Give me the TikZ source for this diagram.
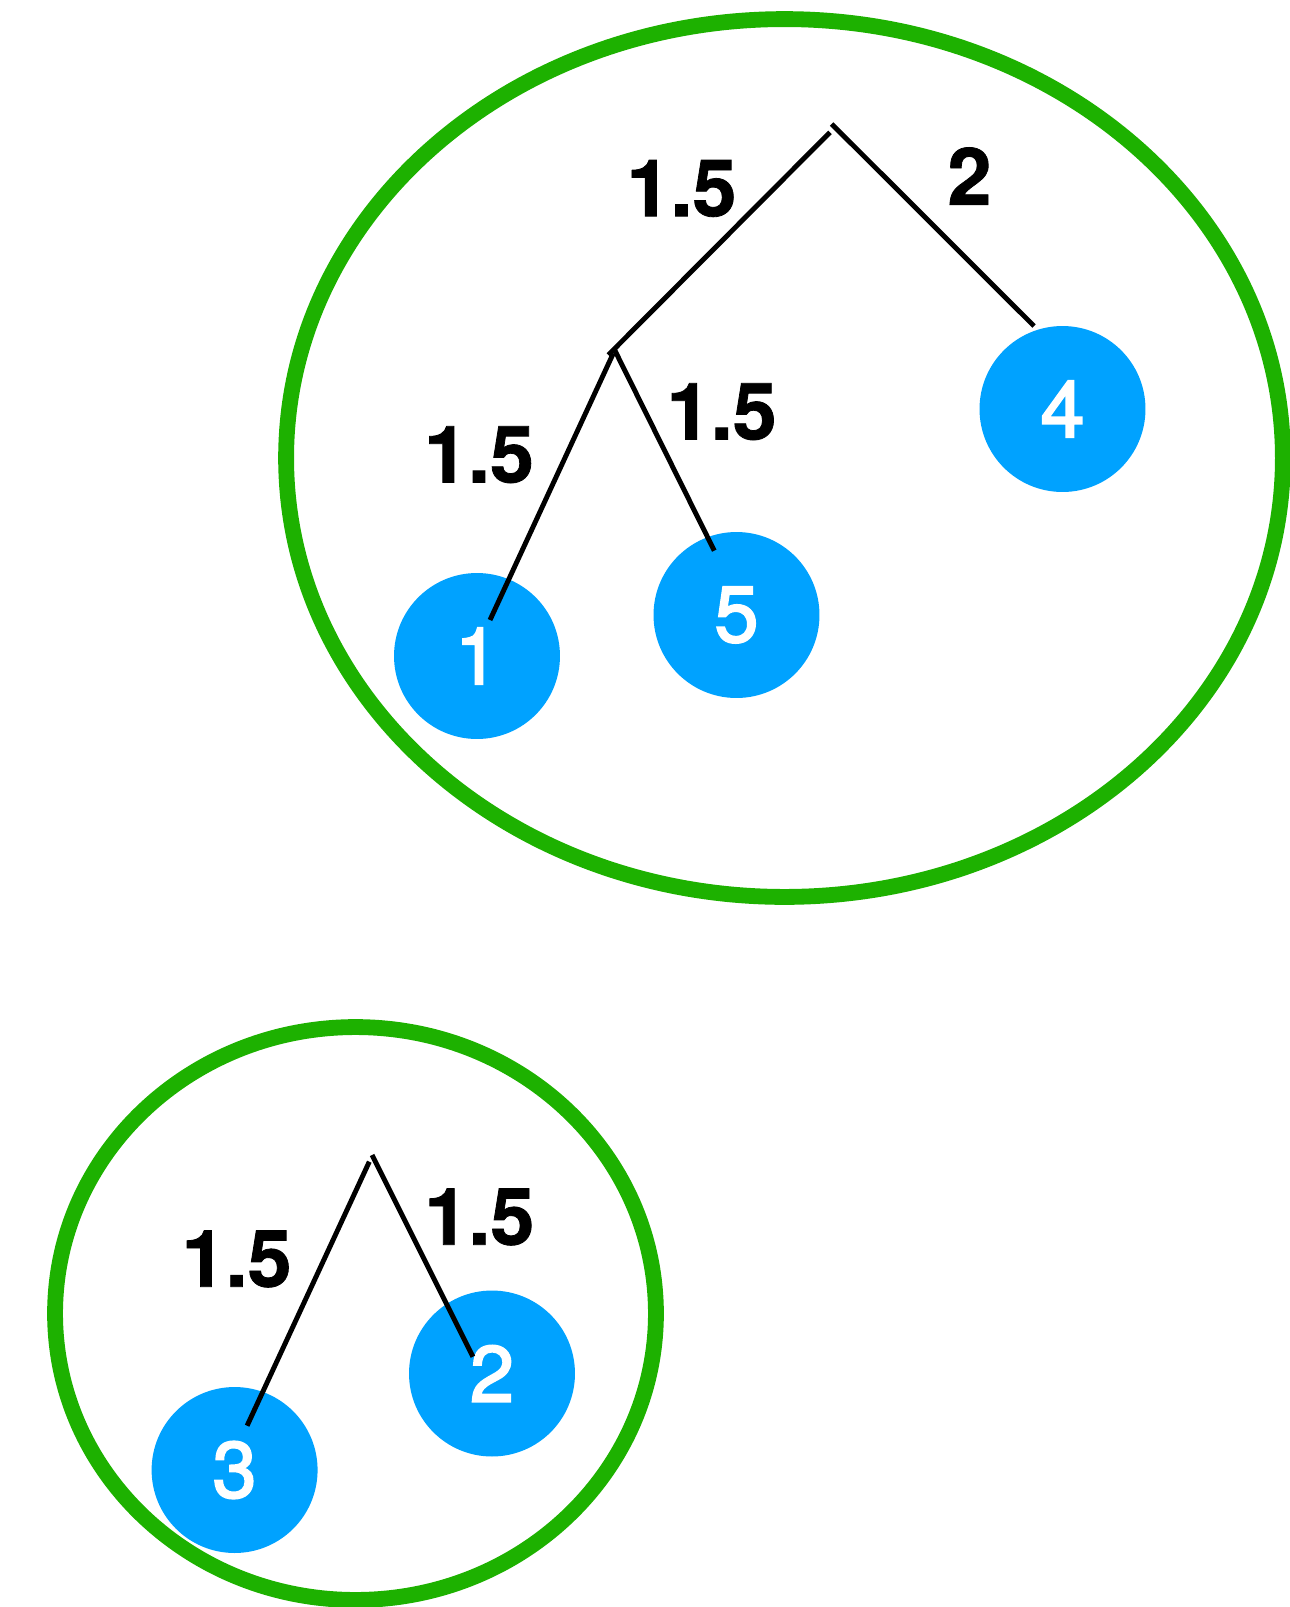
\documentclass[tikz,border=0pt]{standalone}
\usepackage{fontspec}
\setmainfont{TeX Gyre Heros}
\newfontfamily\leaffont[RawFeature={embolden=2.5}]{TeX Gyre Heros}
\newfontfamily\labelfont[RawFeature={embolden=1}]{TeX Gyre Heros}
\definecolor{keyblue}{RGB}{0,162,255}
\definecolor{keygreen}{RGB}{29,177,0}
\begin{document}
\begin{tikzpicture}[x=0.02cm,y=-0.02cm,
  leaf/.style={circle,fill=keyblue,minimum size=3.32cm,inner sep=0pt,text=white,
    font=\leaffont\fontsize{45}{54}\selectfont},
  group/.style={draw=keygreen,line width=9pt},
  branch/.style={line width=2.8pt,line cap=butt},
  wlabel/.style={inner sep=0pt,font=\labelfont\fontsize{45}{54}\selectfont\bfseries}]
\useasboundingbox (0,0) rectangle (1290,1607);

% groups
\draw[group] (784.5,458) ellipse [x radius=9.97cm, y radius=8.78cm];
\draw[group] (355.5,1313.5) ellipse [x radius=6.01cm, y radius=5.73cm];

% leaves
\node[leaf] (n1) at (477,656) {1};
\node[leaf] (n5) at (736.5,615) {5};
\node[leaf] (n4) at (1062.5,409) {4};
\node[leaf] (n3) at (234.6,1470) {3};
\node[leaf] (n2) at (492,1373.5) {2};

% tree points
\coordinate (r1a) at (831.7,124);
\coordinate (r1b) at (830,132.3);
\coordinate (e4) at (1034,326);
\coordinate (i1) at (608.3,355);
\coordinate (i1a) at (613.3,353.3);
\coordinate (i1b) at (615,350.7);
\coordinate (e1) at (490,620);
\coordinate (e5) at (714.3,550.7);
\coordinate (r2a) at (369.3,1161.7);
\coordinate (r2b) at (372.1,1155);
\coordinate (e3) at (247.1,1425.7);
\coordinate (e2) at (472.9,1356.7);

% branches
\draw[branch] (r1a) -- (e4);
\draw[branch] (r1b) -- (i1);
\draw[branch] (i1a) -- (e1);
\draw[branch] (i1b) -- (e5);
\draw[branch] (r2a) -- (e3);
\draw[branch] (r2b) -- (e2);

% weights
\node[wlabel] (w1) at (681.5,188.5) {1.5};
\node[wlabel] (w2) at (969.5,176) {2};
\node[wlabel] (w3) at (479,454.7) {1.5};
\node[wlabel] (w4) at (721.7,411.7) {1.5};
\node[wlabel] (w5) at (236.6,1259) {1.5};
\node[wlabel] (w6) at (479.4,1217) {1.5};
\end{tikzpicture}
\end{document}
